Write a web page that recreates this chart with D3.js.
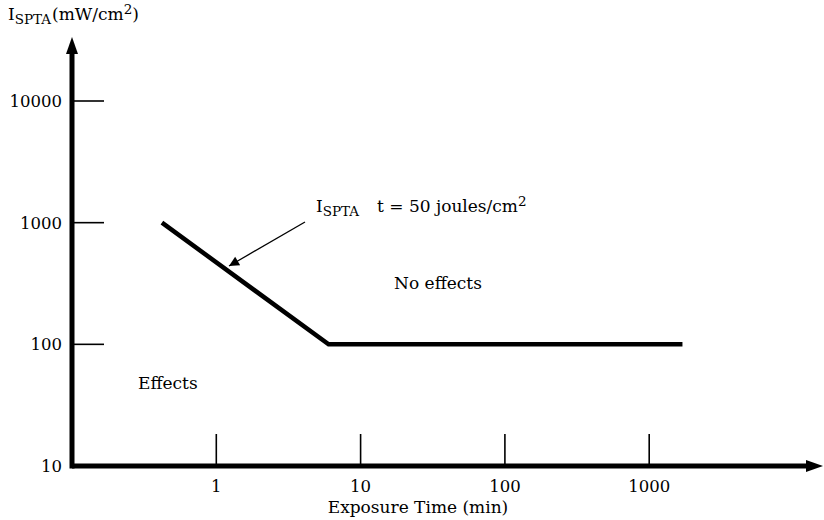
<!DOCTYPE html>
<html><head><meta charset="utf-8">
<script src="https://cdn.jsdelivr.net/npm/d3@7"></script>
<style>
body{margin:0;background:#fff;}
</style></head>
<body><svg id="c" width="824" height="520" font-family="'DejaVu Serif', serif"></svg>
<script>
const xTicks = [1, 10, 100, 1000];
const xTickLabels = ["1", "10", "100", "1000"];
const yTicks = [10, 100, 1000, 10000];
const yTickLabels = ["10", "100", "1000", "10000"];
const limitTimes = [0.42, 6, 1700];
const limitIntensity = [1000, 100, 100];

const FS = 16.5, WS = 17, WSS = 13.5;
const svg = d3.select("#c");
const x = d3.scaleLog().domain([0.1, 1000]).range([72, 72 + 4 * 144.3]);
const y = d3.scaleLog().domain([10, 10000]).range([466, 101]);
const x0 = x(0.1), y0 = y(10);

const defs = svg.append("defs");
defs.append("marker").attr("id","ah").attr("viewBox","0 0 10 10").attr("refX",10).attr("refY",5)
  .attr("markerWidth",12).attr("markerHeight",10).attr("markerUnits","userSpaceOnUse").attr("orient","auto")
  .append("path").attr("d","M0,0 L10,5 L0,10 Z").attr("fill","#000");

// axes
svg.append("line").attr("x1",x0).attr("y1",y0).attr("x2",810).attr("y2",y0).attr("stroke","#000").attr("stroke-width",5);
svg.append("path").attr("d",`M806,${y0-6} L823,${y0} L806,${y0+6} Z`).attr("fill","#000");
svg.append("line").attr("x1",x0).attr("y1",y0+2.5).attr("x2",x0).attr("y2",50).attr("stroke","#000").attr("stroke-width",5);
svg.append("path").attr("d",`M${x0-6},54 L${x0},37 L${x0+6},54 Z`).attr("fill","#000");

// x ticks
xTicks.forEach((t,i)=>{
  svg.append("line").attr("x1",x(t)).attr("x2",x(t)).attr("y1",y0).attr("y2",y0-32).attr("stroke","#000").attr("stroke-width",1.6);
  svg.append("text").attr("x",x(t)).attr("y",492).attr("text-anchor","middle").attr("font-size",FS).text(xTickLabels[i]);
});
// y ticks
yTicks.forEach((t,i)=>{
  if (t !== 10) svg.append("line").attr("x1",x0).attr("x2",x0+32).attr("y1",y(t)).attr("y2",y(t)).attr("stroke","#000").attr("stroke-width",1.6);
  svg.append("text").attr("x",62).attr("y",y(t)+6).attr("text-anchor","end").attr("font-size",FS).text(yTickLabels[i]);
});

// limit line
const pts = limitTimes.map((t,i)=>[x(t), y(limitIntensity[i])]);
svg.append("path").attr("d",d3.line()(pts)).attr("fill","none").attr("stroke","#000").attr("stroke-width",4.5).attr("stroke-linejoin","miter");

// annotation arrow
svg.append("line").attr("x1",305).attr("y1",222).attr("x2",229).attr("y2",266).attr("stroke","#000").attr("stroke-width",1.3).attr("marker-end","url(#ah)");

// annotation text
const ann = svg.append("text").attr("x",316).attr("y",212).attr("font-size",WS);
ann.append("tspan").text("I");
ann.append("tspan").attr("font-size",WSS).attr("dy",4).text("SPTA");
ann.append("tspan").attr("dy",-4).attr("x",377).text("t = 50 joules/cm");
ann.append("tspan").attr("font-size",WSS).attr("dy",-6).text("2");

svg.append("text").attr("x",438).attr("y",289).attr("text-anchor","middle").attr("font-size",WS).text("No effects");
svg.append("text").attr("x",138).attr("y",389).attr("font-size",WS).text("Effects");
svg.append("text").attr("x",418).attr("y",513).attr("text-anchor","middle").attr("font-size",WS).text("Exposure Time (min)");

// y label
const yl = svg.append("text").attr("x",8).attr("y",20).attr("font-size",WS);
yl.append("tspan").text("I");
yl.append("tspan").attr("font-size",WSS).attr("dy",4).text("SPTA");
yl.append("tspan").attr("dy",-4).attr("dx",1).text("(mW/cm");
yl.append("tspan").attr("font-size",WSS).attr("dy",-6).text("2");
yl.append("tspan").attr("dy",6).text(")");
</script></body></html>
